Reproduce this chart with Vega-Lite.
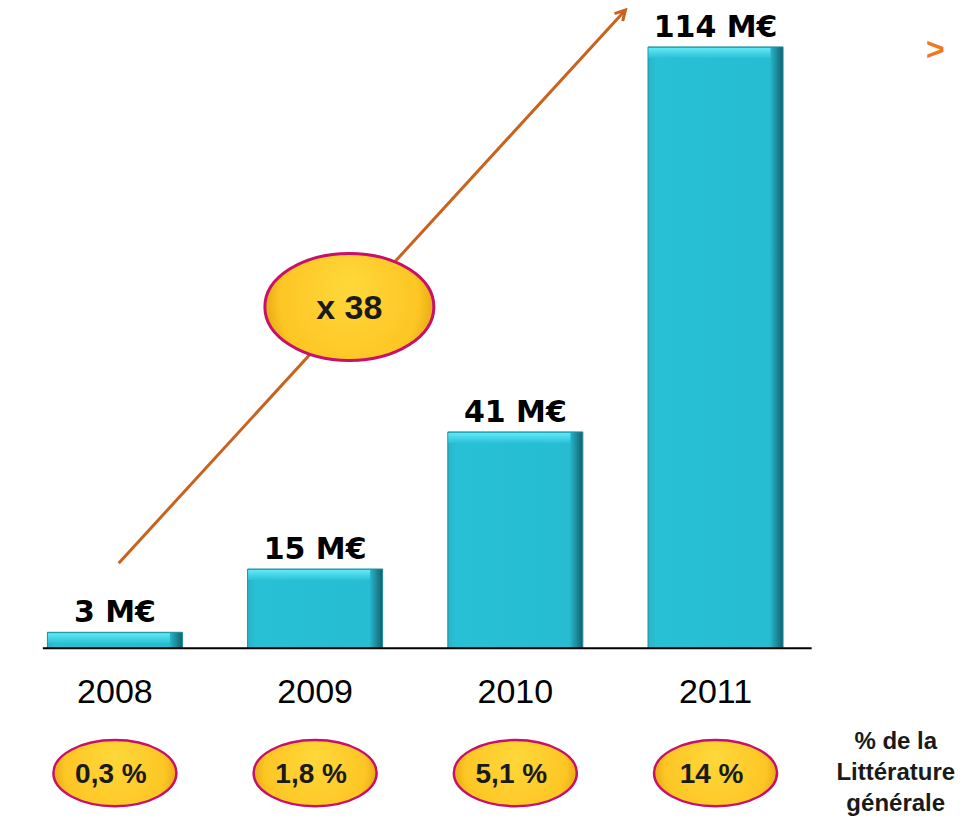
{
  "$schema": "https://vega.github.io/schema/vega-lite/v6.json",
  "width": 965,
  "height": 819,
  "padding": 0,
  "autosize": {"type": "none"},
  "background": "#ffffff",
  "view": {"stroke": null},
  "datasets": {
    "bars": [
      {"year": 2008, "value": 3, "label": "3 M€", "pct": "0,3 %"},
      {"year": 2009, "value": 15, "label": "15 M€", "pct": "1,8 %"},
      {"year": 2010, "value": 41, "label": "41 M€", "pct": "5,1 %"},
      {"year": 2011, "value": 114, "label": "114 M€", "pct": "14 %"}
    ],
    "arrow": [
      {"ax": 2008.019, "ay": 16.1},
      {"ax": 2010.55, "ay": 121.0}
    ],
    "one": [{}]
  },
  "layer": [
    {
      "data": {"name": "bars"},
      "mark": {
        "type": "bar",
        "size": 135,
        "stroke": "#1b8c9c",
        "strokeWidth": 1,
        "fill": {
          "x1": 0, "y1": 0, "x2": 1, "y2": 0,
          "gradient": "linear",
          "stops": [
            {"offset": 0, "color": "#2bb3c6"},
            {"offset": 0.06, "color": "#28c0d5"},
            {"offset": 0.9, "color": "#26bdd2"},
            {"offset": 1, "color": "#145f6b"}
          ]
        }
      },
      "encoding": {
        "x": {"field": "year", "type": "quantitative", "scale": {"domain": [2007.451, 2012.221], "nice": false, "zero": false}, "axis": null},
        "y": {"field": "value", "type": "quantitative", "scale": {"domain": [-32.4, 122.9], "nice": false, "zero": false}, "axis": null}
      }
    },
    {
      "data": {"name": "bars"},
      "mark": {
        "type": "tick",
        "orient": "horizontal",
        "size": 122,
        "thickness": 10,
        "xOffset": -6,
        "yOffset": 6,
        "opacity": 1,
        "fill": {
          "x1": 0, "y1": 0, "x2": 0, "y2": 1,
          "gradient": "linear",
          "stops": [
            {"offset": 0, "color": "#62e8f6"},
            {"offset": 1, "color": "#2ac2d7"}
          ]
        }
      },
      "encoding": {
        "x": {"field": "year", "type": "quantitative"},
        "y": {"field": "value", "type": "quantitative"}
      }
    },
    {
      "data": {"name": "one"},
      "mark": {"type": "rule", "color": "#000000", "strokeWidth": 2},
      "encoding": {
        "x": {"datum": 2007.64, "type": "quantitative"},
        "x2": {"datum": 2011.48},
        "y": {"datum": 0, "type": "quantitative"}
      }
    },
    {
      "data": {"name": "arrow"},
      "mark": {"type": "line", "color": "#c8621c", "strokeWidth": 3},
      "encoding": {
        "x": {"field": "ax", "type": "quantitative"},
        "y": {"field": "ay", "type": "quantitative"}
      }
    },
    {
      "data": {"name": "one"},
      "mark": {"type": "point", "shape": "M -0.5 0.9 L 0 0 L 0.5 0.9", "filled": false, "stroke": "#c8621c", "strokeWidth": 3, "size": 500, "angle": 42.8, "opacity": 1},
      "encoding": {
        "x": {"datum": 2010.55, "type": "quantitative"},
        "y": {"datum": 121.0, "type": "quantitative"}
      }
    },
    {
      "data": {"name": "bars"},
      "mark": {"type": "text", "font": "DejaVu Sans", "fontWeight": "bold", "fontSize": 30, "baseline": "alphabetic", "dy": -10, "color": "#000000"},
      "encoding": {
        "x": {"field": "year", "type": "quantitative"},
        "y": {"field": "value", "type": "quantitative"},
        "text": {"field": "label"}
      }
    },
    {
      "data": {"name": "bars"},
      "mark": {"type": "text", "font": "Liberation Sans", "fontSize": 34, "baseline": "middle", "color": "#000000"},
      "encoding": {
        "x": {"field": "year", "type": "quantitative"},
        "y": {"datum": -8.5, "type": "quantitative"},
        "text": {"field": "year", "type": "nominal"}
      }
    },
    {
      "data": {"name": "bars"},
      "mark": {
        "type": "point",
        "shape": "M -1 0 C -1 -0.297 -0.5523 -0.537 0 -0.537 C 0.5523 -0.537 1 -0.297 1 0 C 1 0.297 0.5523 0.537 0 0.537 C -0.5523 0.537 -1 0.297 -1 0 Z",
        "size": 15129,
        "filled": true,
        "opacity": 1,
        "strokeWidth": 2.5,
        "stroke": "#c8106a",
        "dx": -4,
        "fill": {
          "gradient": "radial",
          "x1": 0.5, "y1": 0.35, "r1": 0,
          "x2": 0.5, "y2": 0.5, "r2": 0.55,
          "stops": [
            {"offset": 0, "color": "#ffd83a"},
            {"offset": 0.75, "color": "#fdc624"},
            {"offset": 1, "color": "#dc9a0c"}
          ]
        }
      },
      "encoding": {
        "x": {"field": "year", "type": "quantitative"},
        "y": {"datum": -23.7, "type": "quantitative"}
      }
    },
    {
      "data": {"name": "bars"},
      "mark": {"type": "text", "font": "Liberation Sans", "fontWeight": "bold", "fontSize": 28, "baseline": "middle", "color": "#1a1a1a", "dy": 2, "dx": -4},
      "encoding": {
        "x": {"field": "year", "type": "quantitative"},
        "y": {"datum": -23.7, "type": "quantitative"},
        "text": {"field": "pct"}
      }
    },
    {
      "data": {"name": "one"},
      "mark": {
        "type": "point",
        "shape": "M -1 0 C -1 -0.35 -0.5523 -0.633 0 -0.633 C 0.5523 -0.633 1 -0.35 1 0 C 1 0.35 0.5523 0.633 0 0.633 C -0.5523 0.633 -1 0.35 -1 0 Z",
        "size": 28561,
        "filled": true,
        "opacity": 1,
        "strokeWidth": 3,
        "stroke": "#c8106a",
        "fill": {
          "gradient": "radial",
          "x1": 0.5, "y1": 0.35, "r1": 0,
          "x2": 0.5, "y2": 0.5, "r2": 0.55,
          "stops": [
            {"offset": 0, "color": "#ffd83a"},
            {"offset": 0.75, "color": "#fdc624"},
            {"offset": 1, "color": "#dc9a0c"}
          ]
        }
      },
      "encoding": {
        "x": {"datum": 2009.171, "type": "quantitative"},
        "y": {"datum": 64.7, "type": "quantitative"}
      }
    },
    {
      "data": {"name": "one"},
      "mark": {"type": "text", "font": "Liberation Sans", "fontWeight": "bold", "fontSize": 34, "baseline": "middle", "color": "#1a1a1a", "dy": 2},
      "encoding": {
        "x": {"datum": 2009.171, "type": "quantitative"},
        "y": {"datum": 64.7, "type": "quantitative"},
        "text": {"value": "x 38"}
      }
    },
    {
      "data": {"name": "one"},
      "mark": {"type": "text", "font": "Liberation Sans", "fontWeight": "bold", "fontSize": 24, "baseline": "middle", "align": "center", "lineHeight": 31, "color": "#1a1a1a"},
      "encoding": {
        "x": {"datum": 2011.9, "type": "quantitative"},
        "y": {"datum": -17.8, "type": "quantitative"},
        "text": {"value": ["% de la", "Littérature", "générale"]}
      }
    },
    {
      "data": {"name": "one"},
      "mark": {"type": "text", "font": "Liberation Sans", "fontWeight": "bold", "fontSize": 32, "baseline": "middle", "align": "center", "color": "#f07820"},
      "encoding": {
        "x": {"datum": 2012.098, "type": "quantitative"},
        "y": {"datum": 113.4, "type": "quantitative"},
        "text": {"value": ">"}
      }
    }
  ]
}
